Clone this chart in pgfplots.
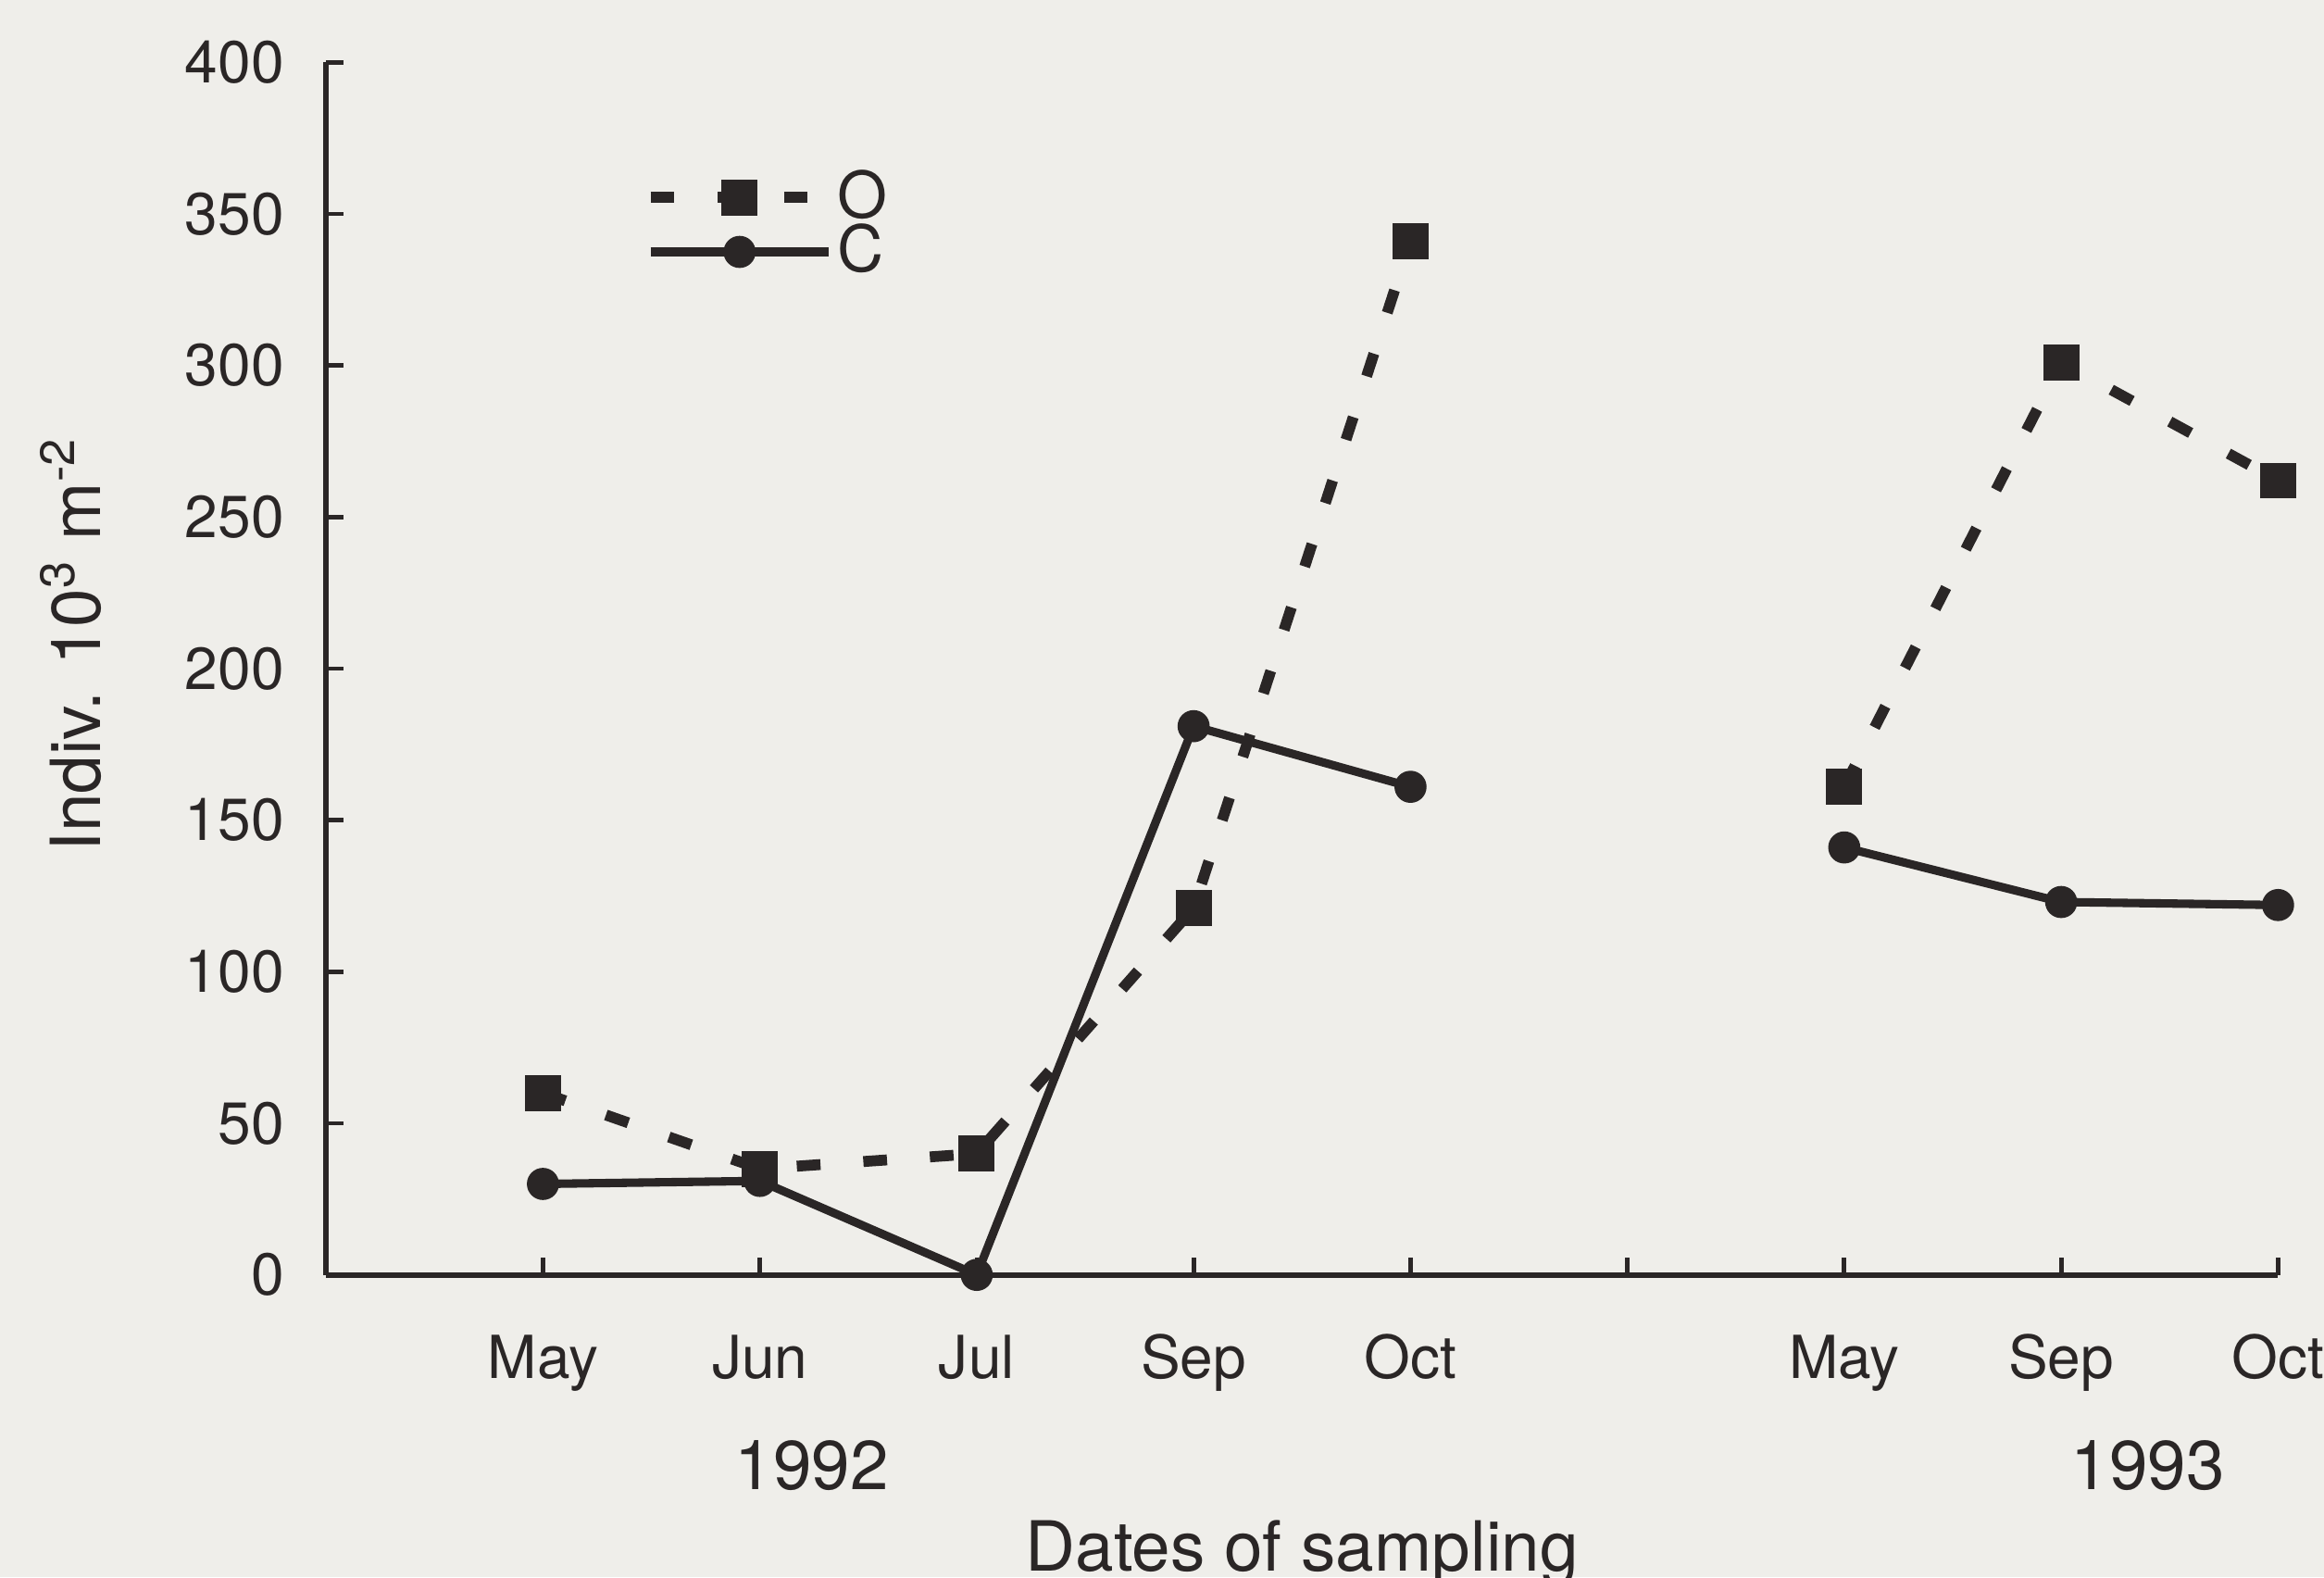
\documentclass[border=0pt]{standalone}
\usepackage{fontspec}
\setmainfont{TeX Gyre Heros}
\usepackage{pgfplots}
\pgfplotsset{compat=1.18}
\definecolor{ink}{RGB}{42,38,38}
\definecolor{paper}{RGB}{239,238,234}
\begin{document}
\begin{tikzpicture}
\fill[paper] (-66pt,-61.2pt) rectangle (404.4pt,258pt);
\begin{axis}[
  at={(0pt,0pt)}, anchor=south west,
  scale only axis, width=395.1pt, height=245.4pt,
  xmin=0, xmax=9, ymin=0, ymax=400,
  axis x line*=bottom, axis y line*=left,
  axis line style={ink, line width=1.1pt},
  xtick={1,2,3,4,5,6,7,8,9},
  xticklabels={May,Jun,Jul,Sep,Oct,,May,Sep,Oct},
  ytick={0,50,...,400},
  tick align=inside,
  major tick length=3.5pt,
  tick style={ink, line width=0.9pt},
  every tick label/.append style={font=\fontsize{12}{14}\selectfont, text=ink},
  xticklabel style={anchor=base, yshift=-21pt},
  yticklabel style={xshift=-5pt},
  /pgf/number format/assume math mode=true,
  clip=false,
  unbounded coords=jump,
  legend cell align=left,
  legend image code/.code={\draw[mark repeat=2,mark phase=2,#1] plot coordinates {(0pt,0pt) (18pt,0pt) (36pt,0pt)};},
  legend style={at={(rel axis cs:0.163,0.915)}, anchor=north west, draw=none, fill=none,
    inner sep=0pt, row sep=-1.6pt, font=\fontsize{13}{13}\selectfont, text=ink,
    nodes={inner sep=0.7pt}},
]
\addplot[ink, line width=2.2pt, dash pattern=on 4.8pt off 8.7pt, mark=square*, mark size=3.4pt, mark options={solid, fill=ink, line width=0.5pt}]
  coordinates {(1,60) (2,35) (3,40) (4,121) (5,341) (6,nan) (7,161) (8,301) (9,262)};
\addlegendentry{O}
\addplot[ink, line width=1.7pt, mark=*, mark size=3pt, mark options={solid, fill=ink, line width=0.5pt}]
  coordinates {(1,30) (2,31) (3,0) (4,181) (5,161) (6,nan) (7,141) (8,123) (9,122)};
\addlegendentry{C}
\node[font=\fontsize{14}{14}\selectfont, text=ink, anchor=base] at (axis cs:2.24,0) [yshift=-43.5pt] {1992};
\node[font=\fontsize{14}{14}\selectfont, text=ink, anchor=base] at (axis cs:8.4,0) [yshift=-43.5pt] {1993};
\node[font=\fontsize{14}{14}\selectfont, text=ink, anchor=base] at (axis cs:4.5,0) [yshift=-60pt] {Dates of sampling};
\node[font=\fontsize{14}{14}\selectfont, text=ink, rotate=90] at ([xshift=-51.6pt]rel axis cs:0,0.52) {Indiv. 10\textsuperscript{3} m\textsuperscript{-2}};
\end{axis}
\pgfresetboundingbox
\path[use as bounding box] (-66pt,-61.2pt) rectangle (404.4pt,258pt);
\end{tikzpicture}
\end{document}
